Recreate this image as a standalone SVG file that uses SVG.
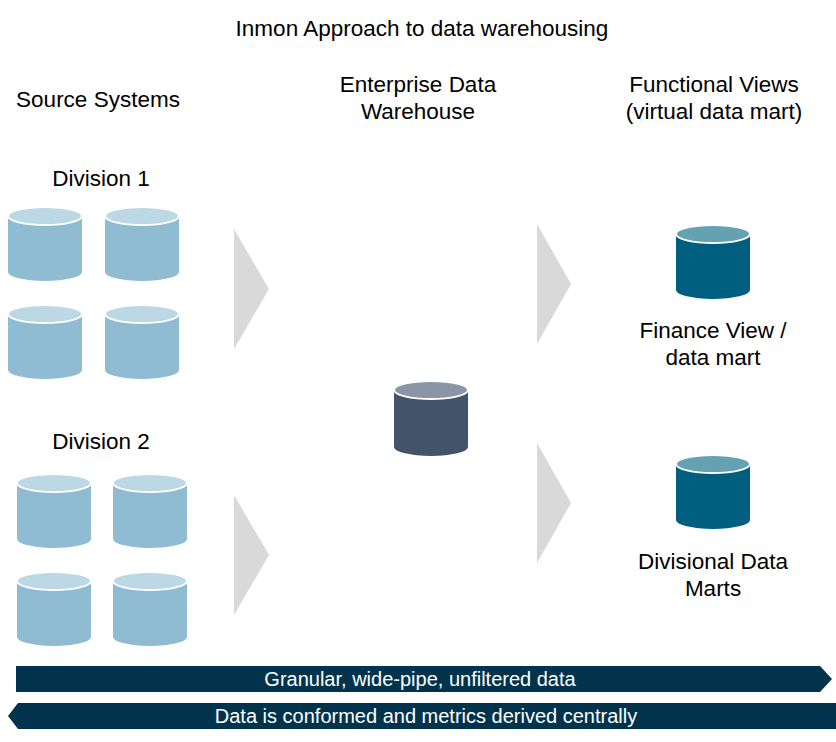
<svg xmlns="http://www.w3.org/2000/svg" width="836" height="742" viewBox="0 0 836 742">
<style>
text{font-family:"Liberation Sans",Arial,sans-serif;fill:#000}
.t{font-size:22.5px;text-anchor:middle}
.b{fill:#fff;font-size:20px;text-anchor:middle}
.tri{fill:#d9d9d9}
.lb .body{fill:#8fbcd3}.lb .top{fill:#bcd8e5}
.dk .body{fill:#435369}.dk .top{fill:#8a96a6}
.tl .body{fill:#005f7f}.tl .top{fill:#64a1b1}
.top{stroke:#fff;stroke-width:2}
</style>
<text x="422" y="36" class="t" font-size="24">Inmon Approach to data warehousing</text>
<text x="98" y="107" class="t">Source Systems</text>
<text x="418" y="92" class="t">Enterprise Data</text>
<text x="418" y="119" class="t">Warehouse</text>
<text x="714" y="92" class="t">Functional Views</text>
<text x="714" y="119" class="t">(virtual data mart)</text>
<g id="division1"><text x="101" y="186" class="t">Division 1</text>
<g class="lb">
<g transform="translate(8,216)"><path class="body" d="M0,0 V56 A37,9 0 0 0 74,56 V0 Z"/><ellipse class="top" cx="37" cy="0" rx="37" ry="9"/></g>
<g transform="translate(105,216)"><path class="body" d="M0,0 V56 A37,9 0 0 0 74,56 V0 Z"/><ellipse class="top" cx="37" cy="0" rx="37" ry="9"/></g>
<g transform="translate(8,314)"><path class="body" d="M0,0 V56 A37,9 0 0 0 74,56 V0 Z"/><ellipse class="top" cx="37" cy="0" rx="37" ry="9"/></g>
<g transform="translate(105,314)"><path class="body" d="M0,0 V56 A37,9 0 0 0 74,56 V0 Z"/><ellipse class="top" cx="37" cy="0" rx="37" ry="9"/></g>
</g></g>
<g id="division2"><text x="101" y="449" class="t">Division 2</text>
<g class="lb">
<g transform="translate(17,483)"><path class="body" d="M0,0 V56 A37,9 0 0 0 74,56 V0 Z"/><ellipse class="top" cx="37" cy="0" rx="37" ry="9"/></g>
<g transform="translate(113,483)"><path class="body" d="M0,0 V56 A37,9 0 0 0 74,56 V0 Z"/><ellipse class="top" cx="37" cy="0" rx="37" ry="9"/></g>
<g transform="translate(17,581)"><path class="body" d="M0,0 V56 A37,9 0 0 0 74,56 V0 Z"/><ellipse class="top" cx="37" cy="0" rx="37" ry="9"/></g>
<g transform="translate(113,581)"><path class="body" d="M0,0 V56 A37,9 0 0 0 74,56 V0 Z"/><ellipse class="top" cx="37" cy="0" rx="37" ry="9"/></g>
</g></g>
<g id="edw" class="dk"><g transform="translate(394,390)"><path class="body" d="M0,0 V57 A37,9 0 0 0 74,57 V0 Z"/><ellipse class="top" cx="37" cy="0" rx="37" ry="9"/></g></g>
<g id="finance"><g class="tl"><g transform="translate(676,234)"><path class="body" d="M0,0 V56 A37,9 0 0 0 74,56 V0 Z"/><ellipse class="top" cx="37" cy="0" rx="37" ry="9"/></g></g>
<text x="713" y="338" class="t">Finance View /</text><text x="713" y="365" class="t">data mart</text></g>
<g id="divmarts"><g class="tl"><g transform="translate(676,464)"><path class="body" d="M0,0 V56 A37,9 0 0 0 74,56 V0 Z"/><ellipse class="top" cx="37" cy="0" rx="37" ry="9"/></g></g>
<text x="713" y="569" class="t">Divisional Data</text><text x="713" y="596" class="t">Marts</text></g>
<g id="connectors">
<polygon class="tri" points="234,229 269,289 234,349"/>
<polygon class="tri" points="234,495 269,555 234,615"/>
<polygon class="tri" points="537,224 571,284 537,344"/>
<polygon class="tri" points="537,443 571,503 537,563"/>
</g>
<g id="bar1"><polygon fill="#01344c" points="16,666 820,666 832,679 820,692 16,692"/><text x="420" y="686" class="b">Granular, wide-pipe, unfiltered data</text></g>
<g id="bar2"><polygon fill="#01344c" points="18,703 836,703 836,729 18,729 8,716"/><text x="426" y="723" class="b">Data is conformed and metrics derived centrally</text></g>
</svg>
